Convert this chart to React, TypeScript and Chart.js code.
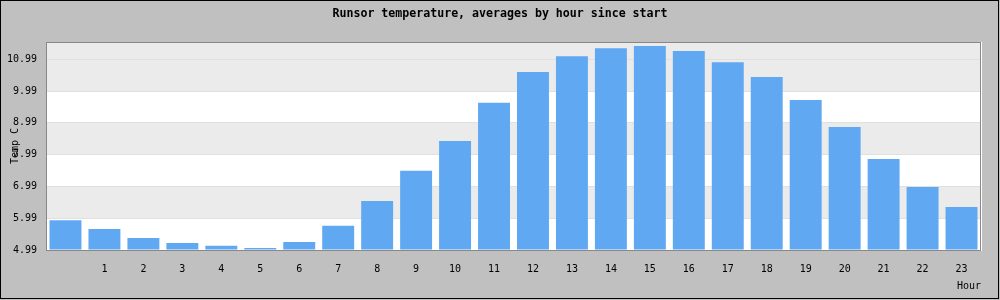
import React, { useEffect, useRef } from 'react';
import { Chart, registerables } from 'chart.js';

Chart.register(...registerables);

const titleText = 'Runsor temperature, averages by hour since start';
const yAxisTitle = 'Temp C';
const xAxisTitle = 'Hour';
const hourLabels = ['', '1', '2', '3', '4', '5', '6', '7', '8', '9', '10', '11', '12', '13', '14', '15', '16', '17', '18', '19', '20', '21', '22', '23'];
const avgTemps = [5.93, 5.65, 5.37, 5.21, 5.12, 5.05, 5.24, 5.75, 6.53, 7.48, 8.42, 9.62, 10.59, 11.09, 11.34, 11.41, 11.25, 10.9, 10.43, 9.71, 8.86, 7.85, 6.97, 6.34];
const yTicks = [4.99, 5.99, 6.99, 7.99, 8.99, 9.99, 10.99];
const yMin = 4.99;
const yMax = 11.535;
const shadedBands = [[5.99, 6.99], [7.99, 8.99], [9.99, 11.535]];

const MONO = '"DejaVu Sans Mono", monospace';

const framePlugin = {
  id: 'framePlugin',
  beforeDraw(chart: any) {
    const { ctx, chartArea: a, scales } = chart;
    const y = scales.y;
    ctx.save();
    ctx.fillStyle = '#c0c0c0';
    ctx.fillRect(0, 0, chart.width, chart.height);
    ctx.fillStyle = '#000000';
    ctx.fillRect(0, 0, 999, 1);
    ctx.fillRect(0, 0, 1, 299);
    ctx.fillRect(998, 0, 1, 299);
    ctx.fillRect(0, 298, 999, 1);
    ctx.fillStyle = '#ffffff';
    ctx.fillRect(a.left, a.top, a.right - a.left, a.bottom - a.top);
    ctx.fillStyle = '#ebebeb';
    for (const [lo, hi] of shadedBands) {
      const yTop = Math.round(y.getPixelForValue(hi));
      const yBot = Math.round(y.getPixelForValue(lo));
      ctx.fillRect(a.left, yTop, a.right - a.left, yBot - yTop);
    }
    ctx.restore();
  },
  afterDraw(chart: any) {
    const { ctx, chartArea: a } = chart;
    ctx.save();
    ctx.fillStyle = '#888888';
    ctx.fillRect(a.left, a.top, a.right - a.left, 1);
    ctx.fillRect(a.right - 1, a.top, 1, a.bottom - a.top);
    ctx.fillStyle = '#ffffff';
    ctx.fillRect(a.right, a.top, 1, a.bottom - a.top + 1);
    ctx.restore();
  },
};

export default function App() {
  const canvasRef = useRef<HTMLCanvasElement | null>(null);

  useEffect(() => {
    document.body.style.margin = '0';
    const canvas = canvasRef.current;
    if (!canvas) return;
    const chart = new Chart(canvas, {
      type: 'bar',
      data: {
        labels: hourLabels,
        datasets: [
          {
            data: avgTemps,
            backgroundColor: '#61a8f2',
            borderWidth: 0,
            barPercentage: 0.82,
            categoryPercentage: 1,
            base: yMin,
            yAxisID: 'y',
          } as any,
        ],
      },
      options: {
        animation: false,
        responsive: false,
        events: [],
        layout: { padding: 0 },
        plugins: {
          legend: { display: false },
          tooltip: { enabled: false },
          title: {
            display: true,
            text: titleText,
            color: '#000000',
            font: { family: MONO, size: 11.6, weight: 'bold', lineHeight: '14px' } as any,
            padding: { top: 7, bottom: 21 },
          },
        },
        scales: {
          x: {
            grid: { display: false, drawTicks: false },
            border: { display: true, color: '#888888', width: 1 },
            ticks: {
              color: '#000000',
              font: { family: MONO, size: 10 },
              padding: 13,
              autoSkip: false,
              maxRotation: 0,
              minRotation: 0,
            },
            title: {
              display: true,
              text: xAxisTitle,
              align: 'end',
              color: '#000000',
              font: { family: MONO, size: 10 },
              padding: { top: 0, bottom: 8 },
            },
            afterFit: (scale: any) => {
              scale.height = 50;
            },
          } as any,
          y: {
            min: yMin,
            max: yMax,
            grid: { color: '#e0e0e0', drawTicks: false },
            border: { display: true, color: '#888888', width: 1 },
            ticks: {
              color: '#000000',
              font: { family: MONO, size: 10 },
              padding: 9,
              callback: (v: any) => Number(v).toFixed(2),
            },
            title: {
              display: true,
              text: yAxisTitle,
              color: '#000000',
              font: { family: MONO, size: 10 },
              padding: { top: 9, bottom: 0 },
            },
            afterBuildTicks: (scale: any) => {
              scale.ticks = yTicks.map((v) => ({ value: v }));
            },
            afterFit: (scale: any) => {
              scale.width = 46;
            },
          } as any,
          yRight: {
            type: 'linear',
            position: 'right',
            display: true,
            grid: { display: false, drawTicks: false },
            border: { display: false },
            ticks: { display: false },
            afterFit: (scale: any) => {
              scale.width = 19;
            },
          } as any,
        },
      },
      plugins: [framePlugin],
    });
    return () => chart.destroy();
  }, []);

  return (
    <div style={{ width: 1000, height: 300 }}>
      <canvas ref={canvasRef} width={1000} height={300} style={{ display: 'block' }} />
    </div>
  );
}
